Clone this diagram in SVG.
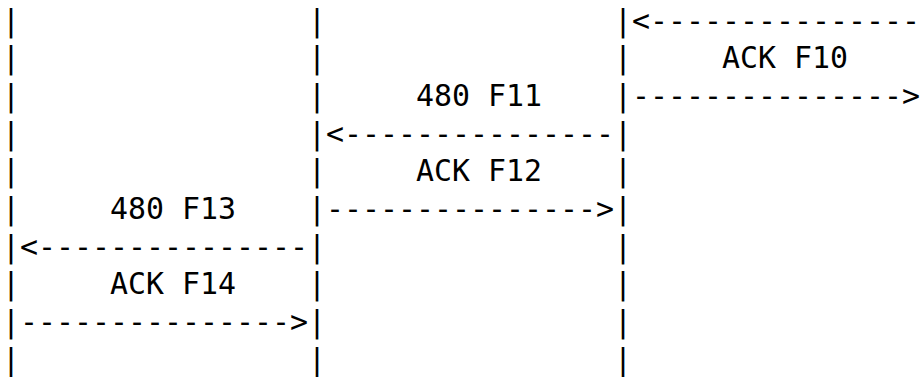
<svg xmlns="http://www.w3.org/2000/svg" width="922" height="377" viewBox="0 0 922 377">
<style>
text{font-family:"DejaVu Sans Mono",monospace;font-size:29.9px;fill:#000;white-space:pre}
</style>
<rect width="922" height="377" fill="#fff"/>
<g id="lifeline-a">
<text><tspan x="2" y="30.5">|</tspan><tspan x="2" y="68.2">|</tspan><tspan x="2" y="105.9">|</tspan><tspan x="2" y="143.6">|</tspan><tspan x="2" y="181.3">|</tspan><tspan x="2" y="219">|</tspan><tspan x="2" y="256.7">|</tspan><tspan x="2" y="294.4">|</tspan><tspan x="2" y="332.1">|</tspan><tspan x="2" y="369.8">|</tspan></text>
</g>
<g id="lifeline-b">
<text><tspan x="308" y="30.5">|</tspan><tspan x="308" y="68.2">|</tspan><tspan x="308" y="105.9">|</tspan><tspan x="308" y="143.6">|</tspan><tspan x="308" y="181.3">|</tspan><tspan x="308" y="219">|</tspan><tspan x="308" y="256.7">|</tspan><tspan x="308" y="294.4">|</tspan><tspan x="308" y="332.1">|</tspan><tspan x="308" y="369.8">|</tspan></text>
</g>
<g id="lifeline-c">
<text><tspan x="614" y="30.5">|</tspan><tspan x="614" y="68.2">|</tspan><tspan x="614" y="105.9">|</tspan><tspan x="614" y="143.6">|</tspan><tspan x="614" y="181.3">|</tspan><tspan x="614" y="219">|</tspan><tspan x="614" y="256.7">|</tspan><tspan x="614" y="294.4">|</tspan><tspan x="614" y="332.1">|</tspan><tspan x="614" y="369.8">|</tspan></text>
</g>
<g id="connectors">
<text x="632" y="30.5">&lt;---------------</text>
<text x="632" y="105.9">---------------&gt;</text>
<text x="326" y="143.6">&lt;---------------</text>
<text x="326" y="219">---------------&gt;</text>
<text x="20" y="256.7">&lt;---------------</text>
<text x="20" y="332.1">---------------&gt;</text>
</g>
<g id="labels">
<text x="722" y="68.2">ACK F10</text>
<text x="416" y="105.9">480 F11</text>
<text x="416" y="181.3">ACK F12</text>
<text x="110" y="219">480 F13</text>
<text x="110" y="294.4">ACK F14</text>
</g>
</svg>
